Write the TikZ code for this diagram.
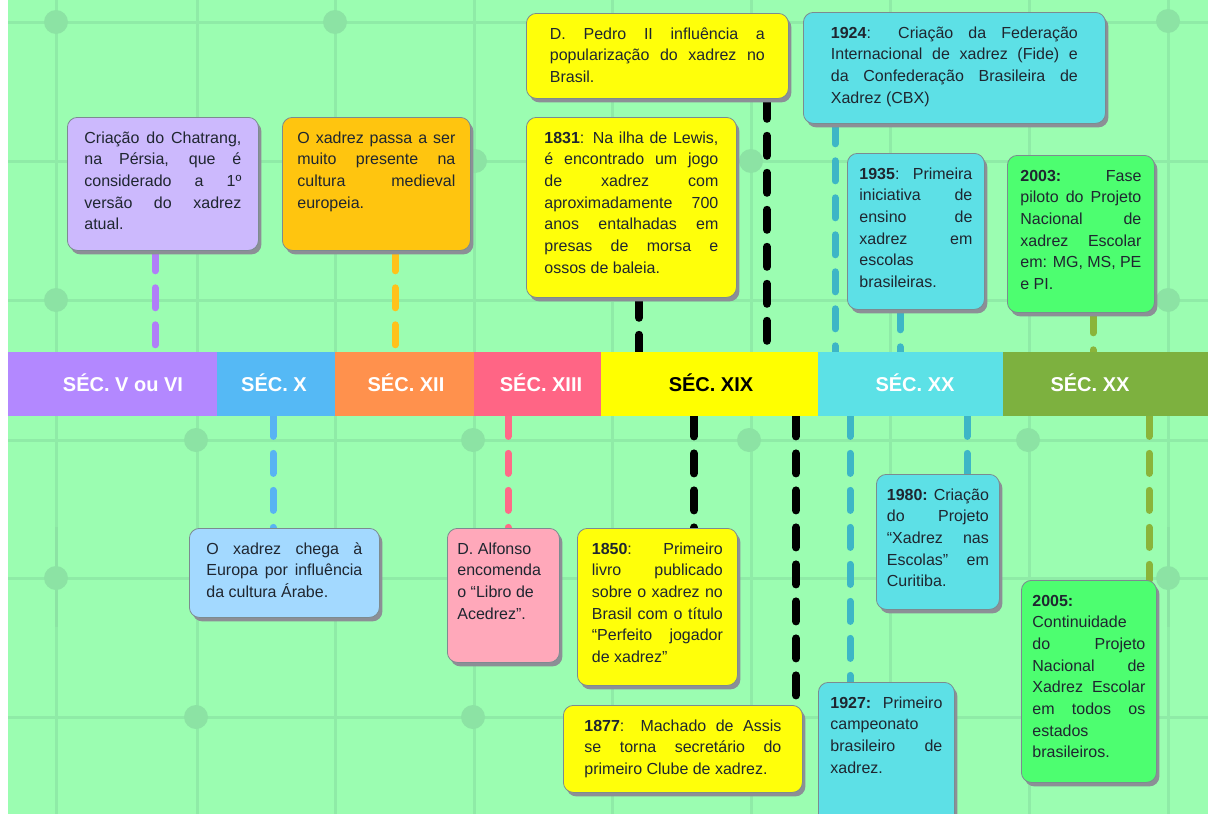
\documentclass[tikz,border=0pt]{standalone}
\usepackage{fontspec}
\setmainfont{Liberation Sans}
\usetikzlibrary{shadows}
\definecolor{bggreen}{HTML}{9BFDB1}
\definecolor{gridc}{HTML}{8FEBA7}
\definecolor{gridd}{HTML}{8CE3A4}
\definecolor{segpurple}{HTML}{B388FF}
\definecolor{segblue}{HTML}{55B9F5}
\definecolor{segorange}{HTML}{FF914D}
\definecolor{segpink}{HTML}{FF6585}
\definecolor{segyellow}{HTML}{FFFF00}
\definecolor{segcyan}{HTML}{5CE1E6}
\definecolor{segolive}{HTML}{7DB13F}
\definecolor{boxpurple}{HTML}{CCB9FD}
\definecolor{boxblue}{HTML}{A3D9FF}
\definecolor{boxorange}{HTML}{FFC50F}
\definecolor{boxpink}{HTML}{FFA8BA}
\definecolor{boxyellow}{HTML}{FFFF0A}
\definecolor{boxcyan}{HTML}{5DE0E6}
\definecolor{boxgreen}{HTML}{4DFE70}
\definecolor{dpurple}{HTML}{B07EF8}
\definecolor{dblue}{HTML}{58B3F2}
\definecolor{dorange}{HTML}{FFC21A}
\definecolor{dpink}{HTML}{FF6A88}
\definecolor{dblack}{HTML}{000000}
\definecolor{dcyan}{HTML}{3DB6C6}
\definecolor{dolive}{HTML}{8AB43A}
\definecolor{txt}{HTML}{1F2630}
\definecolor{bordergray}{HTML}{7C8B90}
\definecolor{shadowgray}{HTML}{8C8F96}
\pgfdeclarelayer{bg}
\pgfdeclarelayer{conn}
\pgfsetlayers{bg,conn,main}
\newcommand\jl[1]{\makebox[\linewidth][s]{\strut#1}\par}
\newcommand\pl[1]{\strut#1\par}
\newcommand\evtext[3]{\parbox[c][#1pt][t]{#2pt}{\vspace*{10.5pt}\fontsize{16pt}{21.7pt}\selectfont\color{txt}\setlength\parindent{0pt}#3}}
\tikzset{
  evbox/.style={draw=bordergray, line width=0.8pt, rounded corners=10pt, inner sep=0pt, anchor=north west,
    general shadow={fill=shadowgray, shadow xshift=3pt, shadow yshift=-4pt}},
  seg/.style={inner sep=0pt, anchor=north west, minimum height=64pt, draw=none},
  seglabel/.style={font=\fontsize{20pt}{24pt}\selectfont\bfseries, text=white, anchor=base, inner sep=0pt},
  conn/.style={draw=#1, line width=7pt, line cap=round, dash pattern=on 20pt off 17pt},
  connk/.style={draw=dblack, line width=8pt, line cap=round, dash pattern=on 20pt off 17pt},
  gridline/.style={draw=gridc, line width=3pt},
}
\begin{document}
\begin{tikzpicture}[x=1pt,y=-1pt]
\useasboundingbox (0,0) rectangle (1208,814);
\clip (0,0) rectangle (1208,814);
\begin{pgfonlayer}{bg}
  \fill[white] (0,0) rectangle (1208,814);
  \fill[bggreen] (8,0) rectangle (1208,814);
  \foreach \x in {56,197,335,474,612,751,890,1029,1168}
    \draw[gridline] (\x,0) -- (\x,814);
  \foreach \y in {22,161,300,440,578,717}
    \draw[gridline] (8,\y) -- (1208,\y);
  \draw[draw=gridd, line width=3pt] (56,527) -- (56,627) (1168,527) -- (1168,627);
  \foreach \p in {(56,22),(335,22),(1168,21),(475,161),(751,161),(56,300),(1168,300),(196,440),(473,440),(749,440),(1028,440),(56,578),(1168,578),(196,717),(473,717)}
    \fill[gridd] \p circle (12pt);
\end{pgfonlayer}

% timeline bar
\node[seg, fill=segpurple, minimum width=209pt] (s1) at (8,352) {};
\node[seg, fill=segblue, minimum width=118pt] (s2) at (217,352) {};
\node[seg, fill=segorange, minimum width=139pt] (s3) at (335,352) {};
\node[seg, fill=segpink, minimum width=127pt] (s4) at (474,352) {};
\node[seg, fill=segyellow, minimum width=217pt] (s5) at (601,352) {};
\node[seg, fill=segcyan, minimum width=185pt] (s6) at (818,352) {};
\node[seg, fill=segolive, minimum width=205pt] (s7) at (1003,352) {};
\node[seglabel] (l1) at (123,391) {SÉC. V ou VI};
\node[seglabel] (l2) at (274,391) {SÉC. X};
\node[seglabel] (l3) at (406,391) {SÉC. XII};
\node[seglabel] (l4) at (541,391) {SÉC. XIII};
\node[seglabel, text=black] (l5) at (711,391) {SÉC. XIX};
\node[seglabel] (l6) at (915,391) {SÉC. XX};
\node[seglabel] (l7) at (1090,391) {SÉC. XX};

% upper boxes
\node[evbox, fill=boxpurple, minimum width=191pt, minimum height=133pt] (b1) at (67,117)
 {\evtext{133}{157}{\jl{Criação do Chatrang,}\jl{na Pérsia, que é}\jl{considerado a 1º}\jl{versão do xadrez}\pl{atual.}}};
\node[evbox, fill=boxorange, minimum width=188pt, minimum height=133pt] (b2) at (282,117)
 {\evtext{133}{158}{\jl{O xadrez passa a ser}\jl{muito presente na}\jl{cultura medieval}\pl{europeia.}}};
\node[evbox, fill=boxyellow, minimum width=262pt, minimum height=85pt] (b3) at (526,13)
 {\evtext{85}{215}{\jl{D. Pedro II influência a}\jl{popularização do xadrez no}\pl{Brasil.}}};
\node[evbox, fill=boxyellow, minimum width=210pt, minimum height=180pt] (b4) at (526,117)
 {\evtext{180}{174}{\jl{\textbf{1831}: Na ilha de Lewis,}\jl{é encontrado um jogo}\jl{de xadrez com}\jl{aproximadamente 700}\jl{anos entalhadas em}\jl{presas de morsa e}\pl{ossos de baleia.}}};
\node[evbox, fill=boxcyan, minimum width=302pt, minimum height=111pt] (b5) at (803,12)
 {\evtext{111}{247}{\jl{\textbf{1924}: Criação da Federação}\jl{Internacional de xadrez (Fide) e}\jl{da Confederação Brasileira de}\pl{Xadrez (CBX)}}};
\node[evbox, fill=boxcyan, minimum width=137pt, minimum height=156pt] (b6) at (847,153)
 {\evtext{156}{113}{\jl{\textbf{1935}: Primeira}\jl{iniciativa de}\jl{ensino de}\jl{xadrez em}\pl{escolas}\pl{brasileiras.}}};
\node[evbox, fill=boxgreen, minimum width=147pt, minimum height=157pt] (b7) at (1007,155)
 {\evtext{157}{121}{\jl{\textbf{2003:} Fase}\jl{piloto do Projeto}\jl{Nacional de}\jl{xadrez Escolar}\jl{em: MG, MS, PE}\pl{e PI.}}};

% lower boxes
\node[evbox, fill=boxblue, minimum width=190pt, minimum height=89pt] (b8) at (189,528)
 {\evtext{89}{156}{\jl{O xadrez chega à}\jl{Europa por influência}\pl{da cultura Árabe.}}};
\node[evbox, fill=boxpink, minimum width=112pt, minimum height=134pt] (b9) at (447,528)
 {\evtext{134}{92}{\pl{D. Alfonso}\pl{encomenda}\pl{o “Libro de}\pl{Acedrez”.}}};
\node[evbox, fill=boxyellow, minimum width=160pt, minimum height=157pt] (b10) at (577,528)
 {\evtext{157}{131}{\jl{\textbf{1850}: Primeiro}\jl{livro publicado}\jl{sobre o xadrez no}\jl{Brasil com o título}\jl{“Perfeito jogador}\pl{de xadrez”}}};
\node[evbox, fill=boxyellow, minimum width=239pt, minimum height=87pt] (b11) at (563,705)
 {\evtext{87}{197}{\jl{\textbf{1877}: Machado de Assis}\jl{se torna secretário do}\pl{primeiro Clube de xadrez.}}};
\node[evbox, fill=boxcyan, minimum width=123pt, minimum height=135pt] (b12) at (876,474)
 {\evtext{135}{102}{\jl{\textbf{1980:} Criação}\jl{do Projeto}\jl{“Xadrez nas}\jl{Escolas” em}\pl{Curitiba.}}};
\node[evbox, fill=boxcyan, minimum width=136pt, minimum height=150pt] (b13) at (818,682)
 {\evtext{150}{112}{\jl{\textbf{1927:} Primeiro}\pl{campeonato}\jl{brasileiro de}\pl{xadrez.}}};
\node[evbox, fill=boxgreen, minimum width=135pt, minimum height=202pt] (b14) at (1021,580)
 {\evtext{202}{113}{\pl{\textbf{2005:}}\pl{Continuidade}\jl{do Projeto}\jl{Nacional de}\jl{Xadrez Escolar}\jl{em todos os}\pl{estados}\pl{brasileiros.}}};

% connectors
\begin{pgfonlayer}{conn}
  \draw[conn=dpurple] (b1.south -| 155,0) -- (s1.north -| 155,0);
  \draw[conn=dorange] (b2.south -| 395,0) -- (s3.north -| 395,0);
  \draw[connk] (b4.south -| 639,0) -- (s5.north -| 639,0);
  \draw[connk] (b3.south -| 767,0) -- (s5.north -| 767,0);
  \draw[conn=dcyan] (b5.south -| 835,0) -- (s6.north -| 835,0);
  \draw[conn=dcyan] (b6.south -| 900,0) -- (s6.north -| 900,0);
  \draw[conn=dolive] (b7.south -| 1093,0) -- (s7.north -| 1093,0);
  \draw[conn=dblue] (s2.south -| 273,0) -- (b8.north -| 273,0);
  \draw[conn=dpink] (s4.south -| 508,0) -- (b9.north -| 508,0);
  \draw[connk] (s5.south -| 694,0) -- (b10.north -| 694,0);
  \draw[connk] (s5.south -| 796,0) -- (b11.north -| 796,0);
  \draw[conn=dcyan] (s6.south -| 850,0) -- (b13.north -| 850,0);
  \draw[conn=dcyan] (s6.south -| 967,0) -- (b12.north -| 967,0);
  \draw[conn=dolive] (s7.south -| 1149,0) -- (b14.north -| 1149,0);
\end{pgfonlayer}
\end{tikzpicture}
\end{document}
